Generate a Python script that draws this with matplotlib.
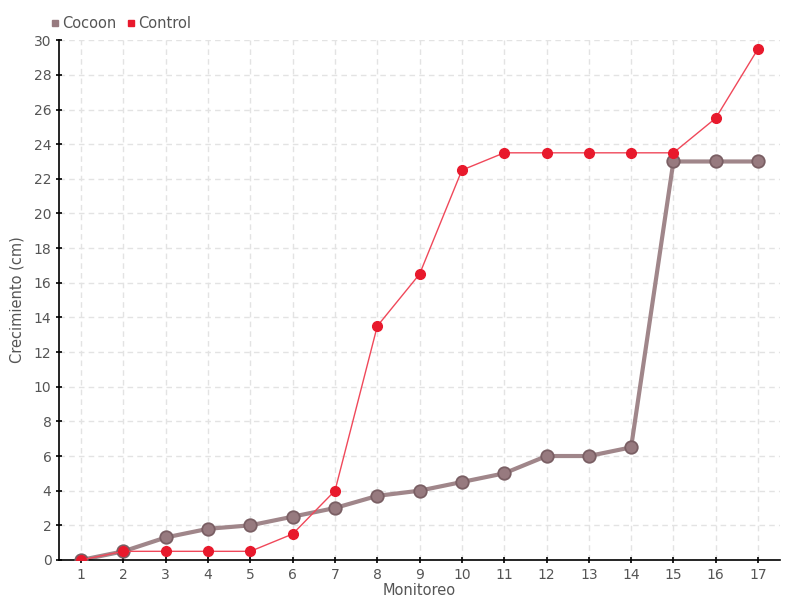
import matplotlib
matplotlib.use("Agg")
import matplotlib.pyplot as plt
from matplotlib.lines import Line2D

# datos
monitoreo = list(range(1, 18))
cocoon = [0, 0.5, 1.3, 1.8, 2, 2.5, 3, 3.7, 4, 4.5, 5, 6, 6, 6.5, 23, 23, 23]
control = [0, 0.5, 0.5, 0.5, 0.5, 1.5, 4, 13.5, 16.5, 22.5, 23.5, 23.5, 23.5, 23.5, 23.5, 25.5, 29.5]

COCOON_LINE = "#a0868a"
COCOON_FACE = "#977a7f"
COCOON_EDGE = "#7a5f64"
CONTROL = "#e8192c"
TXT = "#555555"

plt.rcParams['font.family'] = ['DejaVu Sans']

fig = plt.figure(figsize=(8, 6), dpi=100)
ax = fig.add_axes([0.074, 0.0667, 0.901, 0.8663])

ax.plot(monitoreo, cocoon, color=COCOON_LINE, lw=3, zorder=2)
ax.plot(monitoreo, cocoon, ls="none", marker="o", ms=9, mfc=COCOON_FACE,
        mec=COCOON_EDGE, mew=1.3, zorder=3)
ax.plot(monitoreo, control, color="#f0485a", lw=1, zorder=4)
ax.plot(monitoreo, control, ls="none", marker="o", ms=7, mfc=CONTROL,
        mec=CONTROL, zorder=5)

ax.set_xlim(0.48, 17.52)
ax.set_ylim(0, 30)
ax.set_xticks(monitoreo)
ax.set_yticks(range(0, 31, 2))
ax.grid(True, color="#e3e3e3", ls=(0, (4, 3)), lw=1)
ax.set_axisbelow(True)
for s in ["top", "right"]:
    ax.spines[s].set_visible(False)
for s in ["left", "bottom"]:
    ax.spines[s].set_color("black")
    ax.spines[s].set_linewidth(1.2)
ax.tick_params(axis="both", length=4, width=1.2, colors="black",
               labelcolor=TXT, labelsize=10, direction="inout")
ax.set_xlabel("Monitoreo", color=TXT, fontsize=10.5, labelpad=1)
ax.set_ylabel("Crecimiento (cm)", color=TXT, fontsize=10.5, labelpad=0)
ax.yaxis.set_label_coords(-0.048, 0.5)

handles = [Line2D([], [], ls="none", marker="s", ms=5, mfc=COCOON_FACE, mec=COCOON_FACE),
           Line2D([], [], ls="none", marker="s", ms=5, mfc=CONTROL, mec=CONTROL)]
fig.legend(handles, ["Cocoon", "Control"], loc="upper left",
           bbox_to_anchor=(0.045, 0.995), ncol=2, frameon=False,
           handletextpad=0.1, columnspacing=0.6, handlelength=0.8,
           labelcolor=TXT, fontsize=10.5)

fig.savefig("out.png", dpi=100)
